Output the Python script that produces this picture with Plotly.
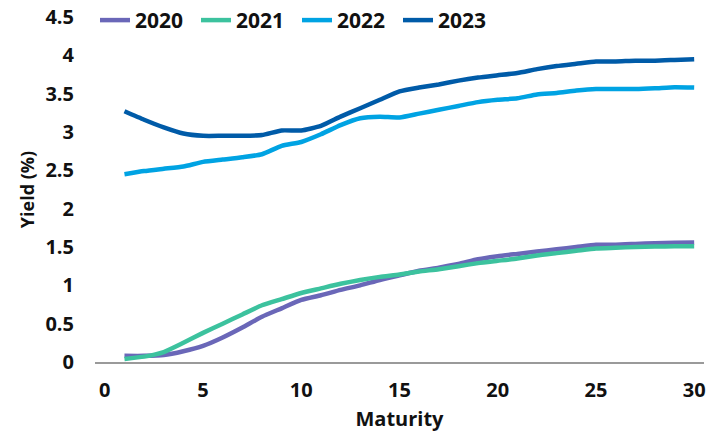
import plotly.graph_objects as go

# Maturity in years
maturity = list(range(1, 31))

# Yield curves (%) by year
yield_2020 = [0.08, 0.08, 0.09, 0.14, 0.21, 0.32, 0.45, 0.59, 0.70, 0.81,
              0.87, 0.94, 1.00, 1.07, 1.13, 1.19, 1.23, 1.28, 1.34, 1.38,
              1.41, 1.44, 1.47, 1.50, 1.53, 1.53, 1.54, 1.55, 1.555, 1.56]
yield_2021 = [0.04, 0.07, 0.13, 0.25, 0.38, 0.50, 0.62, 0.74, 0.82, 0.90,
              0.96, 1.02, 1.07, 1.11, 1.14, 1.18, 1.21, 1.25, 1.29, 1.32,
              1.35, 1.39, 1.42, 1.45, 1.48, 1.49, 1.50, 1.505, 1.51, 1.51]
yield_2022 = [2.45, 2.49, 2.52, 2.55, 2.61, 2.64, 2.67, 2.71, 2.82, 2.87,
              2.97, 3.09, 3.18, 3.20, 3.19, 3.24, 3.29, 3.34, 3.39, 3.42,
              3.44, 3.49, 3.51, 3.54, 3.56, 3.56, 3.56, 3.57, 3.585, 3.58]
yield_2023 = [3.27, 3.16, 3.06, 2.98, 2.95, 2.95, 2.95, 2.96, 3.02, 3.02,
              3.08, 3.20, 3.31, 3.42, 3.53, 3.58, 3.62, 3.67, 3.71, 3.74,
              3.77, 3.82, 3.86, 3.89, 3.92, 3.92, 3.93, 3.93, 3.94, 3.95]

series = [
    ("2020", yield_2020, "#6A67B8"),
    ("2021", yield_2021, "#3CC29E"),
    ("2022", yield_2022, "#00A3E3"),
    ("2023", yield_2023, "#005BA8"),
]

x_ticks = [0, 5, 10, 15, 20, 25, 30]
y_ticks = [0, 0.5, 1, 1.5, 2, 2.5, 3, 3.5, 4, 4.5]
y_tick_text = ["0", "0.5", "1", "1.5", "2", "2.5", "3", "3.5", "4", "4.5"]

FONT = "Open Sans"
fig = go.Figure()
for name, vals, color in series:
    fig.add_trace(go.Scatter(
        x=maturity, y=vals, name=name, mode="lines",
        line=dict(color=color, width=4.5, shape="spline", smoothing=0.5),
    ))

fig.update_layout(
    width=724, height=434,
    margin=dict(l=95, r=20, t=17, b=72, autoexpand=False),
    paper_bgcolor="white", plot_bgcolor="white",
    font=dict(family=FONT, color="#111111", size=20, weight="bold"),
    showlegend=True,
    legend=dict(
        orientation="h", x=0.0, xanchor="left", y=0.99, yanchor="middle",
        font=dict(size=21, family=FONT, weight="bold", color="#111111"),
        bgcolor="rgba(0,0,0,0)", tracegroupgap=0,
        entrywidth=56, entrywidthmode="pixels",
    ),
    xaxis=dict(
        range=[-0.5, 30.5], tickvals=x_ticks, showgrid=False, zeroline=False,
        showline=True, linecolor="#9a9a9a", linewidth=1.5,
        ticks="outside", ticklen=9, tickcolor="rgba(0,0,0,0)",
        tickfont=dict(size=20, family=FONT, weight="bold"),
        title=dict(text="Maturity", standoff=10,
                   font=dict(size=20, family=FONT, weight="bold")),
    ),
    yaxis=dict(
        range=[0, 4.5], tickvals=y_ticks, ticktext=y_tick_text,
        showgrid=False, zeroline=False, showline=False,
        ticks="outside", ticklen=16, tickcolor="rgba(0,0,0,0)",
        tickfont=dict(size=20, family=FONT, weight="bold"),
        title=dict(text="Yield (%)", standoff=6,
                   font=dict(size=18, family=FONT, weight="bold")),
    ),
)

fig.write_html("out.html")
